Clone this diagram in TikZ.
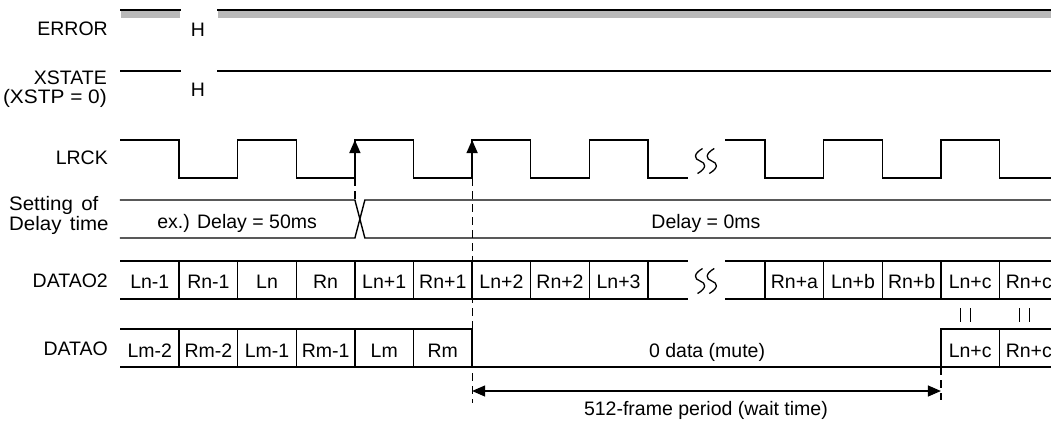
\documentclass[tikz,border=0pt]{standalone}
\usepackage{fontspec}
\setmainfont{Liberation Sans}
\usetikzlibrary{arrows.meta}
\newcommand\dfont{\fontsize{19.5}{20}\selectfont}
\tikzset{
  sig/.style={line width=1.4pt, line join=miter, line cap=rect},
  lbl/.style={anchor=base east, font=\dfont, inner sep=0pt},
  txt/.style={anchor=base, font=\dfont, inner sep=0pt},
  guide/.style={line width=1.2pt, dash pattern=on 8pt off 5pt},
  edgetip/.style={line width=1.4pt, -{Triangle[length=13pt,width=11pt]}},
  spanarrow/.style={line width=1.2pt, {Triangle[length=13pt,width=11pt]}-{Triangle[length=13pt,width=11pt]}},
  brk/.pic={\draw[line width=1.3pt, x=1pt, y=-1pt] (2.5,-12.5) .. controls (-7,-7) and (-6,-2) .. (0,0) .. controls (6,2) and (7,7) .. (-2.5,12.5);}
}
\begin{document}
\begin{tikzpicture}[x=1pt,y=-1pt]
\useasboundingbox (0,0) rectangle (1051,421);
\clip (0,0) rectangle (1051,421);
% left labels
\node[lbl] (lerror) at (108,35) {ERROR};
\node[anchor=base east, inner sep=0pt] (lxstate) at (107,103)
  {\fontsize{19.5}{16}\selectfont\begin{tabular}[b]{@{}r@{}}XSTATE\hspace{5pt}\\\scalebox{1.07}[1]{(XSTP = 0)}\end{tabular}};
\node[lbl] (llrck) at (108,164) {LRCK};
\node[anchor=base west, inner sep=0pt] (lset) at (9,230)
  {\fontsize{19.5}{17}\selectfont\begin{tabular}[b]{@{}l@{}}\scalebox{1.05}[1]{Setting\hspace{8pt}of}\\\scalebox{1.05}[1]{Delay\hspace{8pt}time}\end{tabular}};
\node[lbl] (ld2) at (108,287) {DATAO2};
\node[lbl] (ld) at (108,355) {DATAO};
\begin{scope}[x=58.6pt, xshift=120.5pt]
% ERROR
\fill[gray!55] (0,10) rectangle (1.015,18);
\fill[gray!55] (1.664,10) rectangle (16,18);
\draw[sig] (0,10) -- (1.015,10);
\draw[sig] (1.664,10) -- (16,10);
\node[txt] (h1) at (1.32,36.5) {H};
% XSTATE
\draw[sig, line width=1.6pt] (0,71) -- (1.015,71);
\draw[sig, line width=1.6pt] (1.664,71) -- (16,71);
\node[txt] (h2) at (1.32,96.5) {H};
% LRCK
\draw[sig] (0,140) -- (1,140) -- (1,178) -- (2,178) -- (2,140) -- (3,140) -- (3,178) -- (4,178) -- (4,140) -- (5,140) -- (5,178) -- (6,178) -- (6,140) -- (7,140) -- (7,178) -- (8,178) -- (8,140) -- (9,140) -- (9,178) -- (9.667,178);
\draw[sig] (10.333,140) -- (11,140) -- (11,178) -- (12,178) -- (12,140) -- (13,140) -- (13,178) -- (14,178) -- (14,140) -- (15,140) -- (15,178) -- (16,178);
\pic at (9.89,161) {brk};
\pic at (10.09,161) {brk};
\coordinate (e1a) at (4,160); \coordinate (e1b) at (4,140);
\coordinate (e2a) at (6,160); \coordinate (e2b) at (6,140);
\draw[edgetip] (e1a) -- (e1b);
\draw[edgetip] (e2a) -- (e2b);
% Setting of delay time
\draw[sig] (0,200) -- (4,200) -- (4.17,238) -- (16,238);
\draw[sig] (0,238) -- (4,238) -- (4.17,200) -- (16,200);
\node[txt] (del50) at (1.99,228) {ex.) Delay = 50ms};
\node[txt] (del0) at (9.99,228) {Delay = 0ms};
% DATAO2
\draw[sig] (0,261) -- (9.667,261) (0,299) -- (9.667,299);
\draw[sig] (10.333,261) -- (16,261) (10.333,299) -- (16,299);
\foreach \k in {1,...,9,11,12,13,14,15} \draw[sig] (\k,261) -- (\k,299);
\pic at (9.89,281) {brk};
\pic at (10.09,281) {brk};
\foreach \k/\t in {0/Ln-1,1/Rn-1,2/Ln,3/Rn,4/Ln+1,5/Rn+1,6/Ln+2,7/Rn+2,8/Ln+3,11/Rn+a,12/Ln+b,13/Rn+b,14/Ln+c,15/Rn+c}
  \node[txt] (ca\k) at (\k+0.5,288) {\t};
% equal marks
\draw[line width=1.2pt] (14.33,308) -- (14.33,322) (14.50,308) -- (14.50,322);
\draw[line width=1.2pt] (15.34,308) -- (15.34,322) (15.51,308) -- (15.51,322);
% DATAO
\draw[sig] (0,329) -- (6,329) -- (6,367);
\draw[sig] (0,367) -- (16,367);
\draw[sig] (14,367) -- (14,329) -- (16,329);
\foreach \k in {1,...,5,15} \draw[sig] (\k,329) -- (\k,367);
\foreach \k/\t in {0/Lm-2,1/Rm-2,2/Lm-1,3/Rm-1,4/Lm,5/Rm,14/Ln+c,15/Rn+c}
  \node[txt] (cb\k) at (\k+0.5,357) {\t};
\node[txt] (mute) at (10.01,357) {0 data (mute)};
% guides
\draw[guide] (4,178) -- (4,200);
\draw[guide] (6,178) -- (6,403);
\draw[guide] (14,367) -- (14,400);
\coordinate (s1) at (6,391);
\coordinate (s2) at (14,391);
\draw[spanarrow] (s1) -- (s2);
\node[txt] (wait) at (9.99,415) {512-frame period (wait time)};
\end{scope}
\end{tikzpicture}
\end{document}
